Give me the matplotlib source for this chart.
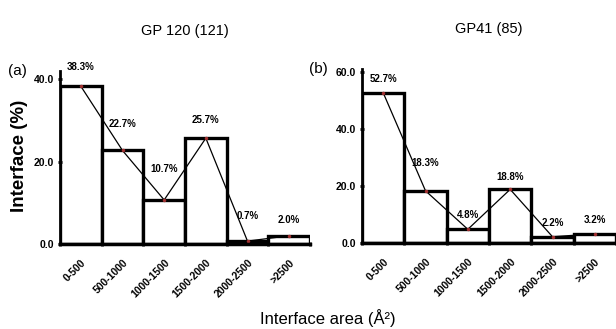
import numpy as np
import matplotlib.pyplot as plt

plt.rcParams['font.family'] = ['Liberation Sans', 'DejaVu Sans']

categories = ['0-500', '500-1000', '1000-1500', '1500-2000', '2000-2500', '>2500']
gp120 = [38.3, 22.7, 10.7, 25.7, 0.7, 2.0]
gp41 = [52.7, 18.3, 4.8, 18.8, 2.2, 3.2]

# label offsets above the bar tops (points)
off120 = [14, 19, 22, 13, 18, 11]
off41 = [10, 20, 10, 9, 10, 10]


def panel(ax, vals, offs, ymax, yticks, title, tag, xmax):
    x = np.arange(len(vals)) + 0.5
    ax.bar(x, vals, width=1.0, facecolor='white', edgecolor='black', linewidth=2.4, clip_on=True)
    ax.plot(x, vals, color='black', linewidth=0.9, marker='o', markersize=1.5,
            markerfacecolor='#a03030', markeredgecolor='#a03030')
    for xi, v, o in zip(x, vals, offs):
        ax.annotate('%.1f%%' % v, (xi, v), xytext=(0, o), textcoords='offset points',
                    ha='center', va='center', fontsize=7, fontweight='bold')
    ax.set_xlim(0, xmax)
    ax.set_ylim(0, ymax)
    ax.set_yticks(yticks)
    ax.set_yticklabels(['%.1f' % t for t in yticks], fontsize=7.5, fontweight='bold')
    ax.set_xticks(np.arange(len(vals) + 1))
    ax.set_xticklabels([])
    ax.set_xticks(x, minor=True)
    ax.set_xticklabels(categories, minor=True, rotation=45, ha='right', va='top',
                       rotation_mode='anchor', fontsize=7.5, fontweight='bold')
    ax.tick_params(axis='x', which='minor', length=0, pad=10)
    ax.tick_params(axis='x', which='major', length=3, width=2, direction='inout')
    ax.tick_params(axis='y', length=3, width=2, direction='inout', pad=3)
    for s in ['top', 'right']:
        ax.spines[s].set_visible(False)
    ax.spines['left'].set_linewidth(2)
    ax.spines['bottom'].set_linewidth(2.5)
    ax.set_title(title, fontsize=10.5, pad=26)
    ax.text(-0.17, 1.0, tag, transform=ax.transAxes, fontsize=11, ha='center', va='center')


fig = plt.figure(figsize=(6.16, 3.29), dpi=100)
ax1 = fig.add_axes([60 / 616, 85 / 329, 250 / 616, 173 / 329])
ax2 = fig.add_axes([362 / 616, 86 / 329, 254 / 616, 174 / 329])

panel(ax1, gp120, off120, 42, [0, 20, 40], 'GP 120 (121)', '(a)', 5.88)
panel(ax2, gp41, off41, 61, [0, 20, 40, 60], 'GP41 (85)', '(b)', 5.98)

fig.text(20 / 616, 1 - 156 / 329, 'Interface (%)', rotation=90, ha='center', va='center',
         fontsize=13.5, fontweight='bold')
fig.text(328 / 616, 1 - 318 / 329, 'Interface area (Å²)', ha='center', va='center', fontsize=12)

fig.savefig('out.png', dpi=100)
